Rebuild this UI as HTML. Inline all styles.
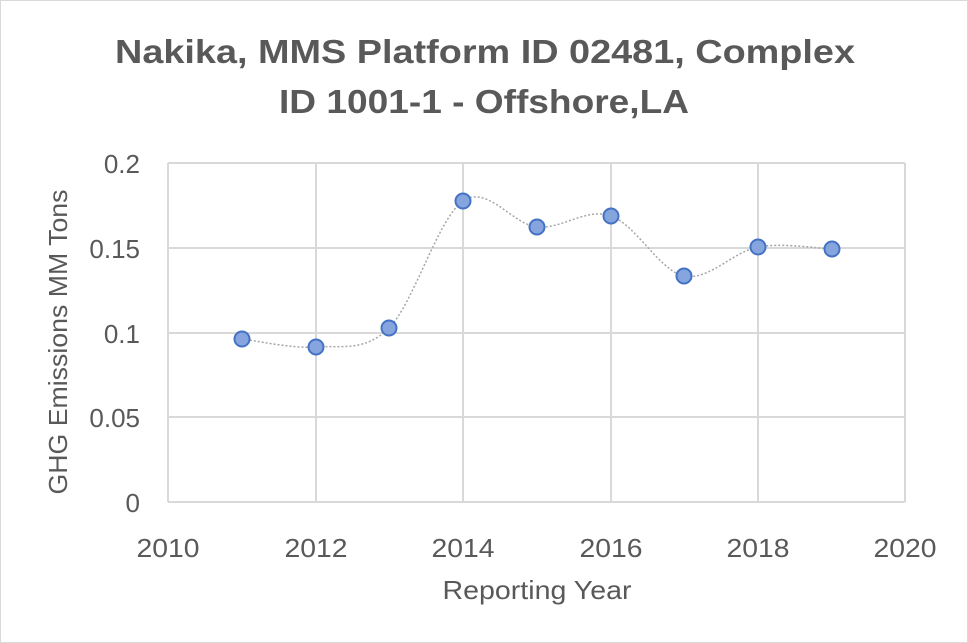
<!DOCTYPE html>
<html><head><meta charset="utf-8"><style>html,body{margin:0;padding:0;background:#fff}svg{display:block}</style></head>
<body>
<svg width="968" height="643" xmlns="http://www.w3.org/2000/svg" font-family="Liberation Sans, sans-serif" fill="#595959">
<rect x="0.5" y="0.5" width="967" height="642" fill="#fff" stroke="#d9d9d9"/>
<text x="485" y="63" font-size="33" font-weight="bold" text-anchor="middle" textLength="740" lengthAdjust="spacingAndGlyphs">Nakika, MMS Platform ID 02481, Complex</text>
<text x="484" y="113" font-size="33" font-weight="bold" text-anchor="middle" textLength="410" lengthAdjust="spacingAndGlyphs">ID 1001-1 - Offshore,LA</text>
<g stroke="#d9d9d9" stroke-width="2">
<line x1="168" y1="163" x2="905" y2="163"/><line x1="168" y1="248" x2="905" y2="248"/><line x1="168" y1="333" x2="905" y2="333"/><line x1="168" y1="417" x2="905" y2="417"/><line x1="168" y1="502" x2="905" y2="502"/>
<line x1="168" y1="163" x2="168" y2="502"/><line x1="316" y1="163" x2="316" y2="502"/><line x1="463" y1="163" x2="463" y2="502"/><line x1="611" y1="163" x2="611" y2="502"/><line x1="758" y1="163" x2="758" y2="502"/><line x1="905" y1="163" x2="905" y2="502"/>
</g>
<g font-size="26" text-anchor="end">
<text x="140" y="173">0.2</text><text x="140" y="258">0.15</text><text x="140" y="343">0.1</text><text x="140" y="427">0.05</text><text x="140" y="512">0</text>
</g>
<g font-size="26" text-anchor="middle">
<text x="168" y="557" textLength="63" lengthAdjust="spacingAndGlyphs">2010</text><text x="316" y="557" textLength="63" lengthAdjust="spacingAndGlyphs">2012</text><text x="463" y="557" textLength="63" lengthAdjust="spacingAndGlyphs">2014</text><text x="611" y="557" textLength="63" lengthAdjust="spacingAndGlyphs">2016</text><text x="758" y="557" textLength="63" lengthAdjust="spacingAndGlyphs">2018</text><text x="905" y="557" textLength="63" lengthAdjust="spacingAndGlyphs">2020</text>
</g>
<text x="537" y="599" font-size="26" text-anchor="middle" textLength="189" lengthAdjust="spacingAndGlyphs">Reporting Year</text>
<text transform="translate(67,342) rotate(-90)" font-size="26" text-anchor="middle" textLength="305" lengthAdjust="spacingAndGlyphs">GHG Emissions MM Tons</text>
<path d="M242,339 C254.3,340.3 291.5,348.8 316,347 C340.5,345.2 364.5,352.3 389,328 C413.5,303.7 438.3,217.8 463,201 C487.7,184.2 512.3,224.5 537,227 C561.7,229.5 586.5,207.2 611,216 C635.5,224.2 659.5,270.8 684,276 C708.5,281.2 733.3,251.5 758,247 C782.7,242.5 819.7,248.7 832,249" fill="none" stroke="#a6a6a6" stroke-width="1.5" stroke-dasharray="2,2"/>
<g fill="#86a5de" stroke="#4472c4" stroke-width="2">
<circle cx="242" cy="339" r="7.5"/><circle cx="316" cy="347" r="7.5"/><circle cx="389" cy="328" r="7.5"/><circle cx="463" cy="201" r="7.5"/><circle cx="537" cy="227" r="7.5"/><circle cx="611" cy="216" r="7.5"/><circle cx="684" cy="276" r="7.5"/><circle cx="758" cy="247" r="7.5"/><circle cx="832" cy="249" r="7.5"/>
</g>
</svg>
</body></html>
